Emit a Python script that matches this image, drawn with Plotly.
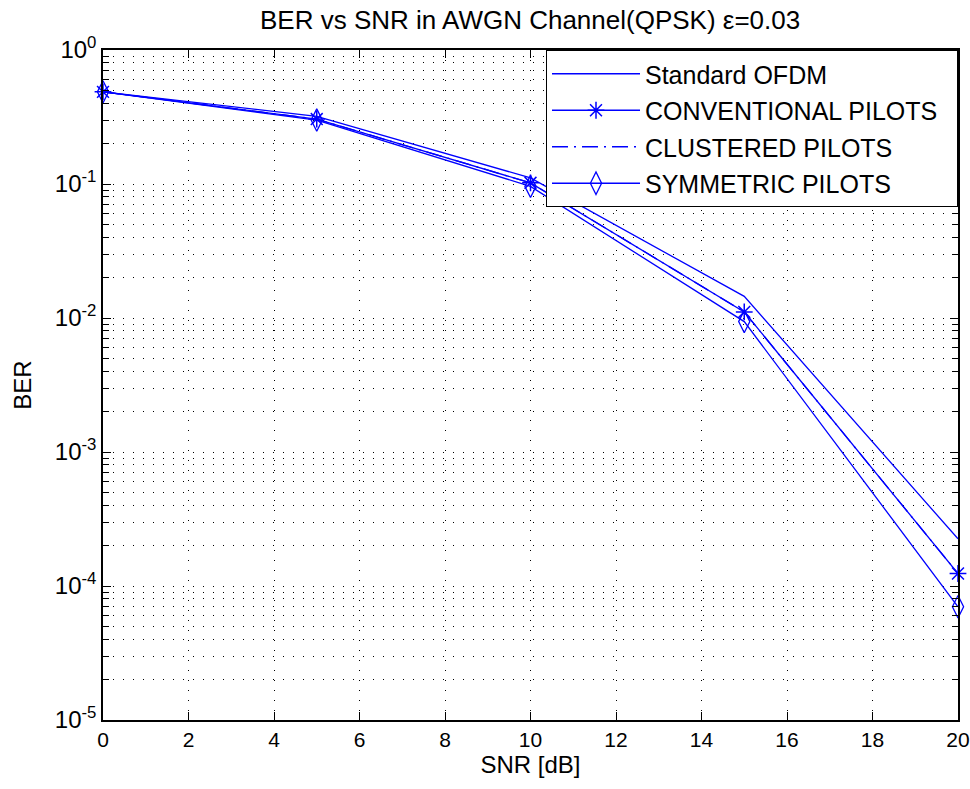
import plotly.graph_objects as go

# SNR sweep points (dB)
snr = [0, 5, 10, 15, 20]

# Bit error rates for each pilot scheme
ber_standard = [0.487, 0.32, 0.111, 0.0145, 2.25e-4]
ber_conventional = [0.487, 0.305, 0.102, 0.0111, 1.24e-4]
ber_clustered = [0.487, 0.305, 0.102, 0.0111, 1.24e-4]
ber_symmetric = [0.487, 0.300, 0.096, 0.0094, 7.0e-5]

# Axis tick definitions
x_ticks = [0, 2, 4, 6, 8, 10, 12, 14, 16, 18, 20]
y_exponents = [-5, -4, -3, -2, -1, 0]

BLUE = "rgb(0,0,255)"
FONT = "Liberation Sans, Arial, sans-serif"
DOT = "1px,9px"
PAD = "\u00a0\u00a0"  # a little breathing room at the right of the legend

fig = go.Figure()

fig.add_trace(go.Scatter(
    x=snr, y=ber_standard, mode="lines", name="Standard OFDM" + PAD,
    legendgroup="a",
    line=dict(color=BLUE, width=1.3), cliponaxis=False,
))
fig.add_trace(go.Scatter(
    x=snr, y=ber_conventional, mode="lines+markers",
    name="CONVENTIONAL PILOTS" + PAD,
    legendgroup="b",
    line=dict(color=BLUE, width=1.3),
    marker=dict(symbol="asterisk-open", size=14, color=BLUE,
                line=dict(color=BLUE, width=1.5)),
    cliponaxis=False,
))
fig.add_trace(go.Scatter(
    x=snr, y=ber_clustered, mode="lines", name="CLUSTERED PILOTS" + PAD,
    legendgroup="c",
    line=dict(color=BLUE, width=1.3, dash="16px,6px,2px,6px"),
    cliponaxis=False,
))
fig.add_trace(go.Scatter(
    x=snr, y=ber_symmetric, mode="lines+markers", name="SYMMETRIC PILOTS" + PAD,
    legendgroup="d",
    line=dict(color=BLUE, width=1.3),
    marker=dict(symbol="diamond-tall-open", size=16, color=BLUE,
                line=dict(color=BLUE, width=1.3)),
    cliponaxis=False,
))

minor_y = [k * 10.0 ** e for e in range(-5, 0) for k in range(2, 10)]

fig.update_layout(
    width=970, height=789,
    margin=dict(l=103, r=12, t=50, b=69, autoexpand=False),
    paper_bgcolor="white", plot_bgcolor="white",
    font=dict(family=FONT, size=22, color="black"),
    title=dict(
        text="BER vs SNR in AWGN Channel(QPSK) \u03b5=0.03",
        x=0.5465, xanchor="center", y=0.975, yanchor="middle",
        font=dict(family=FONT, size=26, color="black"),
    ),
    showlegend=True,
    legend=dict(
        x=1, xanchor="right", y=1, yanchor="top",
        bgcolor="white", bordercolor="black", borderwidth=1,
        font=dict(family=FONT, size=25, color="black"),
        itemwidth=88, tracegroupgap=1,
    ),
    xaxis=dict(
        range=[0, 20], tickvals=x_ticks, automargin=False,
        ticks="inside", ticklen=8, tickcolor="black",
        showline=True, linecolor="black", linewidth=1.5, mirror="allticks",
        showgrid=True, gridcolor="black", gridwidth=1, griddash=DOT,
        zeroline=False,
        title=dict(text="SNR [dB]", standoff=6, font=dict(size=24)),
        tickfont=dict(size=21),
    ),
    yaxis=dict(
        type="log", range=[-5, 0], automargin=False,
        tickvals=[10.0 ** e for e in y_exponents],
        ticktext=["10<sup>%d</sup>" % e for e in y_exponents],
        ticks="inside", ticklen=8, tickcolor="black",
        showline=True, linecolor="black", linewidth=1.5, mirror="allticks",
        showgrid=True, gridcolor="black", gridwidth=1, griddash=DOT,
        zeroline=False,
        minor=dict(tickvals=minor_y, ticks="inside", ticklen=6,
                   tickcolor="black", showgrid=True, gridcolor="black",
                   gridwidth=1, griddash=DOT),
        title=dict(text="BER", standoff=16, font=dict(size=24)),
        tickfont=dict(size=24),
    ),
)

fig.write_html("out.html")
